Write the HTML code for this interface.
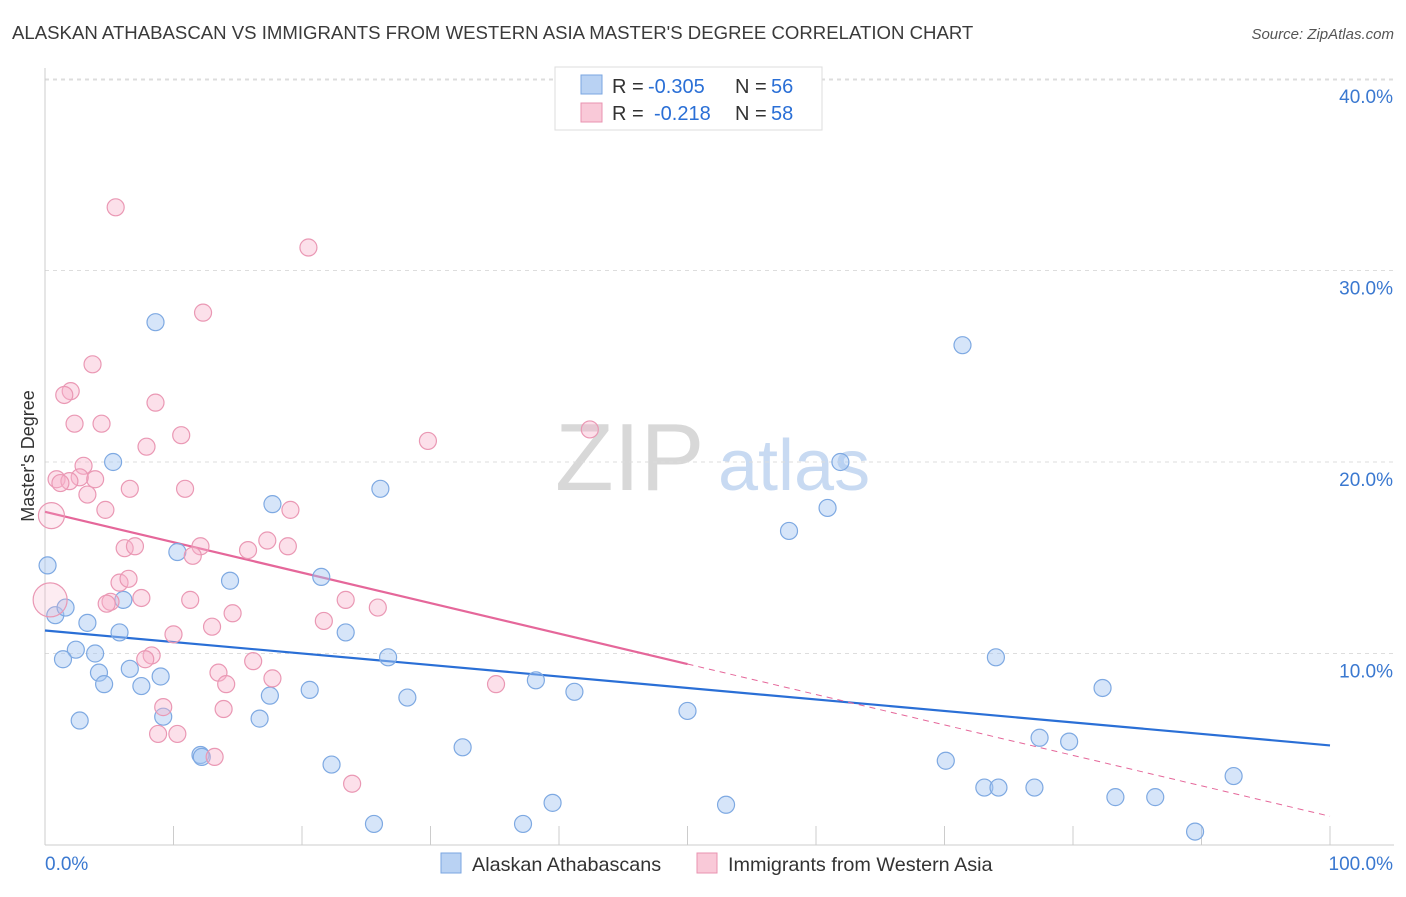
<!DOCTYPE html>
<html><head><meta charset="utf-8">
<style>
body{margin:0;background:#fff;font-family:"Liberation Sans",sans-serif;}
svg text{font-family:"Liberation Sans",sans-serif;}
</style></head>
<body>
<svg id="chart" width="1406" height="892" viewBox="0 0 1406 892" xmlns="http://www.w3.org/2000/svg">
<text x="12" y="39" font-size="18.6" fill="#3a3a3a">ALASKAN ATHABASCAN VS IMMIGRANTS FROM WESTERN ASIA MASTER'S DEGREE CORRELATION CHART</text>
<text x="1394" y="39" font-size="15" fill="#555" text-anchor="end" font-style="italic">Source: ZipAtlas.com</text>
<g>
<text x="555" y="490" font-size="96" fill="#d8d8d8" font-family="Liberation Serif, serif">ZIP</text>
<text x="718" y="490" font-size="72" fill="#c8daf2">atlas</text>
</g>
<g id="grid"></g>
<g id="axes"></g>
<g id="trend"></g>
<g id="pts"></g>
<g>
<rect x="555" y="67" width="267" height="63" fill="#fff" stroke="#ddd"/>
<rect x="581" y="75" width="21" height="19" fill="#b9d2f3" stroke="#7aa6e0"/>
<rect x="581" y="103" width="21" height="19" fill="#f9c9d8" stroke="#e993b0"/>
<text x="612" y="93" font-size="20" fill="#333">R =</text>
<text x="648" y="93" font-size="20" fill="#2a6fd6">-0.305</text>
<text x="735" y="93" font-size="20" fill="#333">N =</text>
<text x="771" y="93" font-size="20" fill="#2a6fd6">56</text>
<text x="612" y="120" font-size="20" fill="#333">R =</text>
<text x="654" y="120" font-size="20" fill="#2a6fd6">-0.218</text>
<text x="735" y="120" font-size="20" fill="#333">N =</text>
<text x="771" y="120" font-size="20" fill="#2a6fd6">58</text>
</g>
<g>
<rect x="441" y="853" width="20" height="20" fill="#b9d2f3" stroke="#7aa6e0"/>
<text x="472" y="871" font-size="19.8" fill="#333">Alaskan Athabascans</text>
<rect x="697" y="853" width="20" height="20" fill="#f9c9d8" stroke="#e993b0"/>
<text x="728" y="871" font-size="19.8" fill="#333">Immigrants from Western Asia</text>
</g>
<text transform="translate(34,456) rotate(-90)" font-size="18" fill="#333" text-anchor="middle">Master's Degree</text>
</svg>
<script>
const yTicks=[10,20,30,40];
const yTickLabels=["10.0%","20.0%","30.0%","40.0%"];
const blueX=[8.6,71.4,5.3,61.9,26.1,17.7,60.9,57.9,0.2,10.3,14.4,21.5,0.8,1.6,6.1,3.3,5.8,23.4,2.4,3.9,1.4,26.7,74.0,4.2,6.6,9.0,4.6,7.5,20.6,17.5,38.2,41.2,28.2,82.3,50.0,9.2,2.7,16.7,32.5,12.1,12.2,77.4,79.7,70.1,22.3,92.5,73.1,74.2,77.0,39.5,53.0,83.3,86.4,25.6,37.2,89.5];
const blueY=[27.3,26.1,20.0,20.0,18.6,17.8,17.6,16.4,14.6,15.3,13.8,14.0,12.0,12.4,12.8,11.6,11.1,11.1,10.2,10.0,9.7,9.8,9.8,9.0,9.2,8.8,8.4,8.3,8.1,7.8,8.6,8.0,7.7,8.2,7.0,6.7,6.5,6.6,5.1,4.7,4.6,5.6,5.4,4.4,4.2,3.6,3.0,3.0,3.0,2.2,2.1,2.5,2.5,1.1,1.1,0.7];
const pinkX=[5.5,20.5,12.3,3.7,2.0,1.5,8.6,2.3,4.4,10.6,7.9,29.8,42.4,3.0,0.9,3.9,2.7,1.9,3.3,6.6,10.9,4.7,19.1,0.5,6.2,7.0,12.1,11.5,17.3,15.8,18.9,5.8,6.5,5.1,4.8,7.5,11.3,14.6,23.4,25.9,21.7,13.0,10.0,0.4,8.3,7.8,16.2,13.5,17.7,14.1,35.1,9.2,13.9,8.8,10.3,13.2,23.9,1.2];
const pinkY=[33.3,31.2,27.8,25.1,23.7,23.5,23.1,22.0,22.0,21.4,20.8,21.1,21.7,19.8,19.1,19.1,19.2,19.0,18.3,18.6,18.6,17.5,17.5,17.2,15.5,15.6,15.6,15.1,15.9,15.4,15.6,13.7,13.9,12.7,12.6,12.9,12.8,12.1,12.8,12.4,11.7,11.4,11.0,12.8,9.9,9.7,9.6,9.0,8.7,8.4,8.4,7.2,7.1,5.8,5.8,4.6,3.2,18.9];
const pinkR=[8.5,8.5,8.5,8.5,8.5,8.5,8.5,8.5,8.5,8.5,8.5,8.5,8.5,8.5,8.5,8.5,8.5,8.5,8.5,8.5,8.5,8.5,8.5,13,8.5,8.5,8.5,8.5,8.5,8.5,8.5,8.5,8.5,8.5,8.5,8.5,8.5,8.5,8.5,8.5,8.5,8.5,8.5,17,8.5,8.5,8.5,8.5,8.5,8.5,8.5,8.5,8.5,8.5,8.5,8.5,8.5,8.5];
const blueTrend=[11.2,5.2];
const pinkTrend=[17.4,1.5];
const pinkSolidEnd=50;
const NS="http://www.w3.org/2000/svg";
const X=v=>45+v*12.85, Y=v=>845-v*19.15;
function mk(t,a,p){const e=document.createElementNS(NS,t);for(const k in a)e.setAttribute(k,a[k]);p.appendChild(e);return e;}
const grid=document.getElementById('grid'),axes=document.getElementById('axes'),pts=document.getElementById('pts'),trend=document.getElementById('trend');
yTicks.forEach((t,i)=>{
 const l=mk('line',{x1:45,x2:1394,y1:Y(t),y2:Y(t),stroke:'#ddd','stroke-dasharray':'4,4'},grid);
 
 
 const tx=mk('text',{x:1393,y:Y(t)+24,'font-size':19,fill:'#3a78d0','text-anchor':'end'},axes);
 tx.textContent=yTickLabels[i];
 
 
});
mk('line',{x1:45,x2:1394,y1:80,y2:80,stroke:'#ddd','stroke-dasharray':'4,4'},grid);
mk('line',{x1:45,x2:45,y1:68,y2:845,stroke:'#ccc'},axes);
mk('line',{x1:45,x2:1394,y1:845,y2:845,stroke:'#ccc'},axes);
for(let i=0;i<=10;i++){mk('line',{x1:X(i*10),x2:X(i*10),y1:826,y2:845,stroke:'#ccc'},axes);}
const x0=mk('text',{x:45,y:870,'font-size':19,fill:'#3a78d0'},axes);x0.textContent='0.0%';


const x1=mk('text',{x:1393,y:870,'font-size':19,fill:'#3a78d0','text-anchor':'end'},axes);x1.textContent='100.0%';


blueX.forEach((v,i)=>{const c=mk('circle',{cx:X(v),cy:Y(blueY[i]),r:8.5,fill:'rgba(165,198,242,0.45)',stroke:'#7ea9e2','stroke-width':1.2},pts);
 
 });
pinkX.forEach((v,i)=>{const big=pinkR[i]>9;const c=mk('circle',{cx:X(v),cy:Y(pinkY[i]),r:pinkR[i],fill:big?'rgba(247,178,202,0.25)':'rgba(247,178,202,0.4)',stroke:'#ea98b4','stroke-width':1.2},pts);
 
 });
const pAt=x=>pinkTrend[0]+(pinkTrend[1]-pinkTrend[0])*x/100;
const bl=mk('line',{x1:X(0),y1:Y(blueTrend[0]),x2:X(100),y2:Y(blueTrend[1]),stroke:'#2a6fd6','stroke-width':2.2},trend);


const pl=mk('line',{x1:X(0),y1:Y(pAt(0)),x2:X(pinkSolidEnd),y2:Y(pAt(pinkSolidEnd)),stroke:'#e5679a','stroke-width':2.2},trend);


const pd=mk('line',{x1:X(pinkSolidEnd),y1:Y(pAt(pinkSolidEnd)),x2:X(100),y2:Y(pAt(100)),stroke:'#e5679a','stroke-width':1,'stroke-dasharray':'6,5'},trend);


</script>
</body></html>
